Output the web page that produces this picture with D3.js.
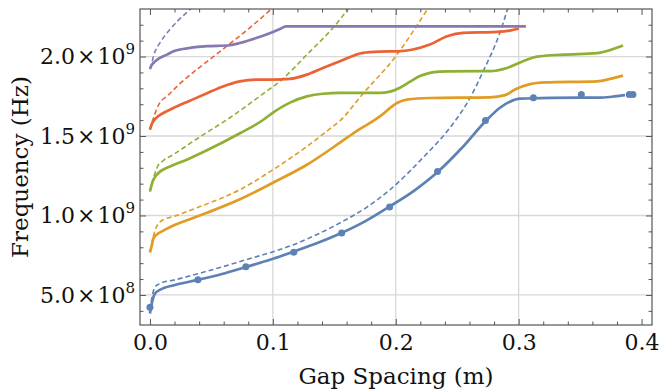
<!DOCTYPE html>
<html><head><meta charset="utf-8">
<script src="https://cdn.jsdelivr.net/npm/d3@7"></script>
<style>
html,body{margin:0;padding:0;background:#fff;}
svg text{font-family:"DejaVu Serif",serif;fill:#111;}
</style></head><body>
<svg id="chart" width="660" height="391"></svg>
<script>
const xTicks=[0,0.1,0.2,0.3,0.4];
const yTicks=[5e8,1e9,1.5e9,2e9];
const xGrid=[0.1,0.2,0.3];
const xMinor=d3.range(1,21).map(i=>+(i*0.02).toFixed(2)).filter(v=>Math.abs(v*10-Math.round(v*10))>1e-6);
const yMinor=d3.range(4,23).map(i=>i*1e8).filter(v=>v%5e8!==0);
const xLabel="Gap Spacing (m)";
const yLabel="Frequency (Hz)";
const colors=["#5E81B5","#E19C24","#8FB032","#EB6235","#8778B3"];

const blueSolidX=[0,0.0016,0.0041,0.0081,0.0203,0.039,0.0586,0.078,0.0976,0.1164,0.1367,0.1562,0.1757,0.1945,0.2148,0.2343,0.2539,0.2734,0.2848,0.2929,0.3011,0.3173,0.3499,0.3662,0.3759,0.3865];
const blueSolidY=[3.83e8,4.5e8,5.09e8,5.32e8,5.63e8,5.95e8,6.32e8,6.76e8,7.21e8,7.71e8,8.28e8,8.91e8,9.66e8,1.054e9,1.155e9,1.275e9,1.426e9,1.596e9,1.678e9,1.716e9,1.735e9,1.738e9,1.741e9,1.741e9,1.747e9,1.757e9];
const blueDotX=[0,0.039,0.078,0.117,0.156,0.195,0.234,0.273,0.312,0.351,0.39,0.393];
const blueDotY=[4.23e8,5.95e8,6.78e8,7.69e8,8.89e8,1.053e9,1.277e9,1.597e9,1.74e9,1.761e9,1.761e9,1.761e9];
const blueDashX=[0,0.002,0.0041,0.0081,0.0203,0.0407,0.078,0.1164,0.1562,0.1757,0.1953,0.2221,0.2441,0.2587,0.271,0.2848,0.2921];
const blueDashY=[4.06e8,5.0e8,5.5e8,5.72e8,5.95e8,6.37e8,7.21e8,8.15e8,9.6e8,1.048e9,1.162e9,1.363e9,1.552e9,1.716e9,1.905e9,2.151e9,2.327e9];

const orangeSolidX=[0,0.0016,0.0028,0.0057,0.0098,0.0187,0.0325,0.0464,0.0732,0.1001,0.1277,0.1546,0.1684,0.1814,0.1871,0.201,0.2091,0.2278,0.2767,0.2889,0.297,0.3092,0.3214,0.3637,0.3743,0.3849];
const orangeSolidY=[7.68e8,8.15e8,8.56e8,8.81e8,9.0e8,9.35e8,9.76e8,1.017e9,1.102e9,1.206e9,1.319e9,1.458e9,1.533e9,1.593e9,1.623e9,1.708e9,1.729e9,1.739e9,1.743e9,1.757e9,1.792e9,1.826e9,1.837e9,1.844e9,1.859e9,1.88e9];
const orangeDashX=[0,0.0016,0.0027,0.0054,0.0108,0.019,0.0407,0.0732,0.1001,0.1277,0.1465,0.1546,0.1733,0.201,0.214,0.2286];
const orangeDashY=[7.68e8,8.28e8,8.67e8,9.3e8,9.73e8,9.93e8,1.056e9,1.162e9,1.288e9,1.434e9,1.546e9,1.596e9,1.766e9,2.012e9,2.157e9,2.333e9];

const greenSolidX=[0,0.0016,0.0033,0.0055,0.009,0.0138,0.0187,0.0309,0.0464,0.0732,0.0911,0.1001,0.1139,0.1277,0.1408,0.1546,0.1871,0.1953,0.2034,0.2116,0.2197,0.2278,0.236,0.2417,0.2767,0.2905,0.3035,0.3149,0.336,0.3637,0.3743,0.3849];
const greenSolidY=[1.151e9,1.199e9,1.231e9,1.256e9,1.281e9,1.30e9,1.316e9,1.354e9,1.41e9,1.517e9,1.596e9,1.647e9,1.71e9,1.749e9,1.766e9,1.771e9,1.771e9,1.779e9,1.804e9,1.842e9,1.877e9,1.897e9,1.905e9,1.907e9,1.908e9,1.928e9,1.97e9,1.999e9,2.012e9,2.021e9,2.04e9,2.069e9];
const greenDashX=[0,0.0016,0.0041,0.0065,0.0106,0.0187,0.039,0.0472,0.0651,0.0732,0.0911,0.1074,0.1277,0.1546,0.1619];
const greenDashY=[1.151e9,1.206e9,1.267e9,1.313e9,1.344e9,1.382e9,1.486e9,1.527e9,1.615e9,1.659e9,1.76e9,1.855e9,2.012e9,2.233e9,2.308e9];

const redSolidX=[0,0.0016,0.0033,0.0057,0.0098,0.0187,0.0325,0.0464,0.0594,0.0732,0.0871,0.1001,0.1139,0.1277,0.1408,0.1546,0.1733,0.1871,0.201,0.214,0.2278,0.2417,0.2547,0.2823,0.2929,0.3002];
const redSolidY=[1.5395e9,1.577e9,1.599e9,1.618e9,1.64e9,1.675e9,1.722e9,1.769e9,1.812e9,1.844e9,1.855e9,1.855e9,1.859e9,1.886e9,1.928e9,1.97e9,2.023e9,2.031e9,2.033e9,2.044e9,2.075e9,2.127e9,2.149e9,2.155e9,2.163e9,2.176e9];
const redDashX=[0,0.0016,0.0033,0.0053,0.0081,0.0136,0.0244,0.039,0.0464,0.0651,0.0814,0.0993];
const redDashY=[1.5395e9,1.584e9,1.621e9,1.666e9,1.71e9,1.749e9,1.829e9,1.924e9,1.968e9,2.081e9,2.182e9,2.302e9];

const purpleSolidX=[0,0.0016,0.0041,0.0081,0.0138,0.0187,0.0244,0.0325,0.039,0.0464,0.0651,0.0732,0.0871,0.1001,0.1058,0.1107,0.122,0.3059];
const purpleSolidY=[1.922e9,1.949e9,1.968e9,1.991e9,2.012e9,2.031e9,2.044e9,2.054e9,2.061e9,2.065e9,2.071e9,2.085e9,2.118e9,2.155e9,2.173e9,2.19e9,2.19e9,2.19e9];
const purpleDashX=[0,0.0016,0.0028,0.0041,0.0057,0.0081,0.0122,0.0163,0.0228,0.0285,0.035];
const purpleDashY=[1.922e9,1.962e9,2.0e9,2.031e9,2.056e9,2.086e9,2.132e9,2.17e9,2.226e9,2.267e9,2.314e9];

const zip=(a,b)=>a.map((v,i)=>[v,b[i]]);
const series=[
  {c:colors[0],solid:zip(blueSolidX,blueSolidY),dash:zip(blueDashX,blueDashY)},
  {c:colors[1],solid:zip(orangeSolidX,orangeSolidY),dash:zip(orangeDashX,orangeDashY)},
  {c:colors[2],solid:zip(greenSolidX,greenSolidY),dash:zip(greenDashX,greenDashY)},
  {c:colors[3],solid:zip(redSolidX,redSolidY),dash:zip(redDashX,redDashY)},
  {c:colors[4],solid:zip(purpleSolidX,purpleSolidY),dash:zip(purpleDashX,purpleDashY)}
];

const L=140,R=652,T=9,B=325;
const svg=d3.select("#chart");
svg.append("rect").attr("width",660).attr("height",391).attr("fill","#fff");
const x=d3.scaleLinear().domain([-0.0081,0.4085]).range([L,R]);
const y=d3.scaleLinear().domain([3.11e8,2.299e9]).range([B,T]);

svg.append("defs").append("clipPath").attr("id","clip").append("rect")
  .attr("x",L).attr("y",T).attr("width",R-L).attr("height",B-T);

const grid=svg.append("g").attr("stroke","#d8d8d8").attr("stroke-width",1.3);
grid.selectAll(".gx").data(xGrid).join("line").attr("x1",d=>x(d)).attr("x2",d=>x(d)).attr("y1",T).attr("y2",B);
grid.selectAll(".gy").data(yTicks).join("line").attr("x1",L).attr("x2",R).attr("y1",d=>y(d)).attr("y2",d=>y(d));

const line=d3.line().x(d=>x(d[0])).y(d=>y(d[1])).curve(d3.curveMonotoneX);
const plot=svg.append("g").attr("clip-path","url(#clip)");
series.forEach(s=>{
  plot.append("path").attr("d",line(s.dash)).attr("fill","none").attr("stroke",s.c)
    .attr("stroke-width",1.6).attr("stroke-dasharray","5,3");
});
series.forEach(s=>{
  plot.append("path").attr("d",line(s.solid)).attr("fill","none").attr("stroke",s.c)
    .attr("stroke-width",2.7).attr("stroke-linejoin","round");
});
plot.selectAll("circle").data(zip(blueDotX,blueDotY)).join("circle")
  .attr("cx",d=>x(d[0])).attr("cy",d=>y(d[1])).attr("r",3.5).attr("fill",colors[0]);

const frameColor="#555";
const fs=22;
function styleAxis(g){g.select(".domain").remove();g.selectAll("line").attr("stroke",frameColor);}
svg.append("g").attr("transform",`translate(0,${B})`)
  .call(d3.axisBottom(x).tickValues(xTicks).tickSize(-6).tickPadding(9.5).tickFormat(d3.format(".1f")))
  .call(styleAxis).call(g=>g.selectAll("text").attr("font-size",fs).attr("font-family","DejaVu Serif").attr("fill","#111"));
svg.append("g").attr("transform",`translate(0,${B})`)
  .call(d3.axisBottom(x).tickValues(xMinor).tickSize(-3.5).tickFormat("")).call(styleAxis);
svg.append("g").attr("transform",`translate(0,${T})`)
  .call(d3.axisTop(x).tickValues(xTicks).tickSize(-6).tickFormat("")).call(styleAxis);
svg.append("g").attr("transform",`translate(0,${T})`)
  .call(d3.axisTop(x).tickValues(xMinor).tickSize(-3.5).tickFormat("")).call(styleAxis);

svg.append("g").attr("transform",`translate(${L},0)`)
  .call(d3.axisLeft(y).tickValues(yTicks).tickSize(-6).tickPadding(5))
  .call(styleAxis)
  .call(g=>g.selectAll(".tick text").attr("font-size",fs).attr("font-family","DejaVu Serif").attr("fill","#111").each(function(d){
    const e=Math.floor(Math.log10(d)+1e-9);
    const m=(d/Math.pow(10,e)).toFixed(1);
    const t=d3.select(this); t.text(null);
    t.append("tspan").text(m);
    t.append("tspan").attr("dx",2).text("\u00d7");
    t.append("tspan").attr("dx",2).text("10");
    t.append("tspan").attr("dy",-10).attr("font-size",15).text(e);
  }));
svg.append("g").attr("transform",`translate(${L},0)`)
  .call(d3.axisLeft(y).tickValues(yMinor).tickSize(-3.5).tickFormat("")).call(styleAxis);
svg.append("g").attr("transform",`translate(${R},0)`)
  .call(d3.axisRight(y).tickValues(yTicks).tickSize(-6).tickFormat("")).call(styleAxis);
svg.append("g").attr("transform",`translate(${R},0)`)
  .call(d3.axisRight(y).tickValues(yMinor).tickSize(-3.5).tickFormat("")).call(styleAxis);

svg.append("rect").attr("x",L).attr("y",T).attr("width",R-L).attr("height",B-T)
  .attr("fill","none").attr("stroke",frameColor).attr("stroke-width",1.2);

svg.append("text").attr("x",(L+R)/2).attr("y",384).attr("text-anchor","middle")
  .attr("font-size",23).text(xLabel);
svg.append("text").attr("transform",`translate(28,${(T+B)/2}) rotate(-90)`).attr("text-anchor","middle")
  .attr("font-size",23).text(yLabel);
</script></body></html>
